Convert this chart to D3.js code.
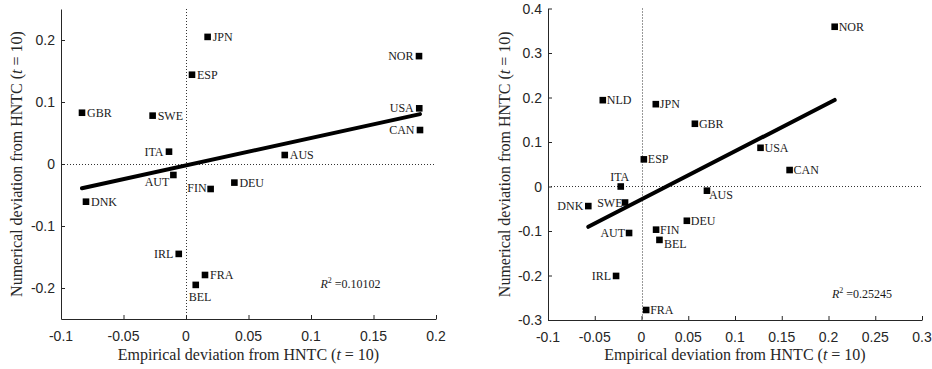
<!DOCTYPE html>
<html>
<head>
<meta charset="utf-8">
<script src="https://cdn.jsdelivr.net/npm/d3@7"></script>
<style>
  html, body { margin: 0; padding: 0; background: #fff; }
  svg { display: block; }
</style>
</head>
<body>
<svg id="chart" width="932" height="369"></svg>
<script>
// ---- data: left panel (16 countries) ----
const leftCountries = ["GBR", "SWE", "JPN", "ESP", "ITA", "AUT", "NOR", "USA", "CAN", "AUS", "DNK", "FIN", "DEU", "IRL", "FRA", "BEL"];
const leftEmpirical = [-0.0832, -0.0267, 0.0173, 0.0048, -0.0136, -0.0101, 0.1864, 0.1866, 0.1872, 0.0790, -0.0800, 0.0197, 0.0387, -0.0058, 0.0152, 0.0078];
const leftNumerical = [0.0827, 0.0780, 0.2050, 0.1440, 0.0199, -0.0177, 0.1740, 0.0898, 0.0548, 0.0145, -0.0608, -0.0403, -0.0300, -0.1450, -0.1790, -0.1950];

// ---- data: right panel (17 countries) ----
const rightCountries = ["NLD", "JPN", "GBR", "ESP", "NOR", "USA", "CAN", "ITA", "SWE", "DNK", "AUT", "FIN", "BEL", "DEU", "IRL", "FRA", "AUS"];
const rightEmpirical = [-0.0414, 0.0153, 0.0571, 0.0025, 0.2066, 0.1273, 0.1584, -0.0222, -0.0176, -0.0569, -0.0133, 0.0156, 0.0192, 0.0485, -0.0272, 0.0050, 0.0700];
const rightNumerical = [0.1940, 0.1850, 0.1410, 0.0610, 0.3590, 0.0870, 0.0370, 0.0000, -0.0360, -0.0440, -0.1045, -0.0970, -0.1200, -0.0770, -0.2010, -0.2775, -0.0094];

// ---- axis ticks and labels ----
const leftXTicks = [-0.1, -0.05, 0, 0.05, 0.1, 0.15, 0.2];
const leftXTickLabels = ["-0.1", "-0.05", "0", "0.05", "0.1", "0.15", "0.2"];
const leftYTicks = [-0.2, -0.1, 0, 0.1, 0.2];
const leftYTickLabels = ["-0.2", "-0.1", "0", "0.1", "0.2"];
const rightXTicks = [-0.1, -0.05, 0, 0.05, 0.1, 0.15, 0.2, 0.25, 0.3];
const rightXTickLabels = ["-0.1", "-0.05", "0", "0.05", "0.1", "0.15", "0.2", "0.25", "0.3"];
const rightYTicks = [-0.3, -0.2, -0.1, 0, 0.1, 0.2, 0.3, 0.4];
const rightYTickLabels = ["-0.3", "-0.2", "-0.1", "0", "0.1", "0.2", "0.3", "0.4"];

const rSquaredLabels = ["0.10102", "0.25245"];
const xTitle = ["Empirical deviation from HNTC (", "t", " = 10)"];
const yTitle = ["Numerical deviation from HNTC (", "t", " = 10)"];

// ---- layout ----
const AXIS = "#262626";
const SERIF = "'Liberation Serif', 'Times New Roman', serif";
const SANS = "'Liberation Sans', Arial, sans-serif";

// label placement per country: [anchor, dx, dy] in pixels from the marker centre
const R = ["start", 5, 0], L = ["end", -5.5, 0];
const leftPlacement = {
  GBR: R, SWE: R, JPN: R, ESP: R, ITA: L, AUT: ["end", -4, 7], NOR: L, USA: L, CAN: L,
  AUS: R, DNK: R, FIN: ["end", -4, -1], DEU: R, IRL: L, FRA: R, BEL: ["start", -7, 12]
};
const R2 = ["start", 4, 0];
const rightPlacement = {
  NLD: R2, JPN: R2, GBR: R2, ESP: R2, NOR: R2, USA: R2, CAN: R2, ITA: ["middle", -1, -10],
  SWE: ["end", -2.5, 0], DNK: ["end", -5, 0], AUT: ["end", -4, 0], FIN: R2, BEL: ["start", 4.5, 4],
  DEU: R2, IRL: ["end", -5, 0], FRA: R2, AUS: ["start", 2, 4.5]
};

const panels = [
  {
    names: leftCountries, xs: leftEmpirical, ys: leftNumerical,
    xDomain: [-0.1, 0.2], yDomain: [-0.25, 0.25],
    xRange: [61, 436], yRange: [319, 9],
    xTicks: leftXTicks, xTickLabels: leftXTickLabels,
    yTicks: leftYTicks, yTickLabels: leftYTickLabels,
    placement: leftPlacement, r2: rSquaredLabels[0], r2At: [0.1075, -0.2005],
    yTitleX: 22
  },
  {
    names: rightCountries, xs: rightEmpirical, ys: rightNumerical,
    xDomain: [-0.1, 0.3], yDomain: [-0.3, 0.4],
    xRange: [548, 922], yRange: [320, 8.5],
    xTicks: rightXTicks, xTickLabels: rightXTickLabels,
    yTicks: rightYTicks, yTickLabels: rightYTickLabels,
    placement: rightPlacement, r2: rSquaredLabels[1], r2At: [0.2037, -0.2505],
    yTitleX: 510
  }
];

const svg = d3.select("#chart");

// ordinary least-squares fit of numerical on empirical deviation
function fitLine(xs, ys) {
  const mx = d3.mean(xs), my = d3.mean(ys);
  let sxy = 0, sxx = 0;
  xs.forEach((x, i) => { sxy += (x - mx) * (ys[i] - my); sxx += (x - mx) * (x - mx); });
  const b = sxy / sxx;
  const a = my - b * mx;
  const [x0, x1] = d3.extent(xs);
  return [[x0, a + b * x0], [x1, a + b * x1]];
}

panels.forEach(p => {
  const x = d3.scaleLinear().domain(p.xDomain).range(p.xRange);
  const y = d3.scaleLinear().domain(p.yDomain).range(p.yRange);
  const g = svg.append("g");

  // zero reference lines
  g.append("line")
    .attr("x1", p.xRange[0]).attr("x2", p.xRange[1])
    .attr("y1", Math.round(y(0)) + 0.5).attr("y2", Math.round(y(0)) + 0.5)
    .attr("stroke", "#333").attr("stroke-width", 1).attr("stroke-dasharray", "1,2");
  g.append("line")
    .attr("x1", Math.round(x(0)) + 0.5).attr("x2", Math.round(x(0)) + 0.5)
    .attr("y1", p.yRange[1]).attr("y2", p.yRange[0])
    .attr("stroke", "#333").attr("stroke-width", 1).attr("stroke-dasharray", "1,2");

  // axes: ticks point inwards, labels placed separately
  const xAxis = d3.axisBottom(x).tickValues(p.xTicks).tickSizeInner(-4).tickSizeOuter(0).tickFormat("");
  const yAxis = d3.axisLeft(y).tickValues(p.yTicks).tickSizeInner(-4).tickSizeOuter(0).tickFormat("");
  const gx = g.append("g").attr("transform", `translate(0,${p.yRange[0]})`).call(xAxis);
  const gy = g.append("g").attr("transform", `translate(${p.xRange[0]},0)`).call(yAxis);
  [gx, gy].forEach(ax => {
    ax.select(".domain").attr("stroke", AXIS);
    ax.selectAll(".tick line").attr("stroke", AXIS);
  });

  g.selectAll(".xtl").data(p.xTicks).enter().append("text")
    .attr("x", d => x(d)).attr("y", p.yRange[0] + 22)
    .attr("text-anchor", "middle")
    .attr("font-family", SANS).attr("font-size", 14).attr("fill", AXIS)
    .text((d, i) => p.xTickLabels[i]);
  g.selectAll(".ytl").data(p.yTicks).enter().append("text")
    .attr("x", p.xRange[0] - 6).attr("y", d => y(d) + 5)
    .attr("text-anchor", "end")
    .attr("font-family", SANS).attr("font-size", 14).attr("fill", AXIS)
    .text((d, i) => p.yTickLabels[i]);

  // axis titles
  const xt = g.append("text")
    .attr("x", (p.xRange[0] + p.xRange[1]) / 2).attr("y", 359.5)
    .attr("text-anchor", "middle")
    .attr("font-family", SERIF).attr("font-size", 16).attr("fill", AXIS);
  xt.append("tspan").text(xTitle[0]);
  xt.append("tspan").attr("font-style", "italic").text(xTitle[1]);
  xt.append("tspan").text(xTitle[2]);

  const yt = g.append("text")
    .attr("transform", `translate(${p.yTitleX},${(p.yRange[0] + p.yRange[1]) / 2}) rotate(-90)`)
    .attr("text-anchor", "middle")
    .attr("font-family", SERIF).attr("font-size", 16).attr("fill", AXIS);
  yt.append("tspan").text(yTitle[0]);
  yt.append("tspan").attr("font-style", "italic").text(yTitle[1]);
  yt.append("tspan").text(yTitle[2]);

  // regression line
  const fit = fitLine(p.xs, p.ys);
  g.append("path")
    .attr("d", d3.line().x(d => x(d[0])).y(d => y(d[1]))(fit))
    .attr("stroke", "#000").attr("stroke-width", 4).attr("stroke-linecap", "round")
    .attr("fill", "none");

  // country markers
  const S = 6.6;
  g.selectAll(".pt").data(p.names).enter().append("rect")
    .attr("x", (d, i) => x(p.xs[i]) - S / 2)
    .attr("y", (d, i) => y(p.ys[i]) - S / 2)
    .attr("width", S).attr("height", S)
    .attr("fill", "#000");

  // country labels
  g.selectAll(".lab").data(p.names).enter().append("text")
    .attr("x", (d, i) => x(p.xs[i]) + p.placement[d][1])
    .attr("y", (d, i) => y(p.ys[i]) + p.placement[d][2] + 4)
    .attr("text-anchor", d => p.placement[d][0])
    .attr("font-family", SERIF).attr("font-size", 12).attr("fill", "#1a1a1a")
    .text(d => d);

  // R-squared annotation
  const rt = g.append("text")
    .attr("x", x(p.r2At[0])).attr("y", y(p.r2At[1]))
    .attr("font-family", SERIF).attr("font-size", 12).attr("fill", "#1a1a1a");
  rt.append("tspan").attr("font-style", "italic").text("R");
  rt.append("tspan").attr("font-size", 8).attr("dy", -5).text("2");
  rt.append("tspan").attr("dy", 5).text(" =" + p.r2);
});
</script>
</body>
</html>
